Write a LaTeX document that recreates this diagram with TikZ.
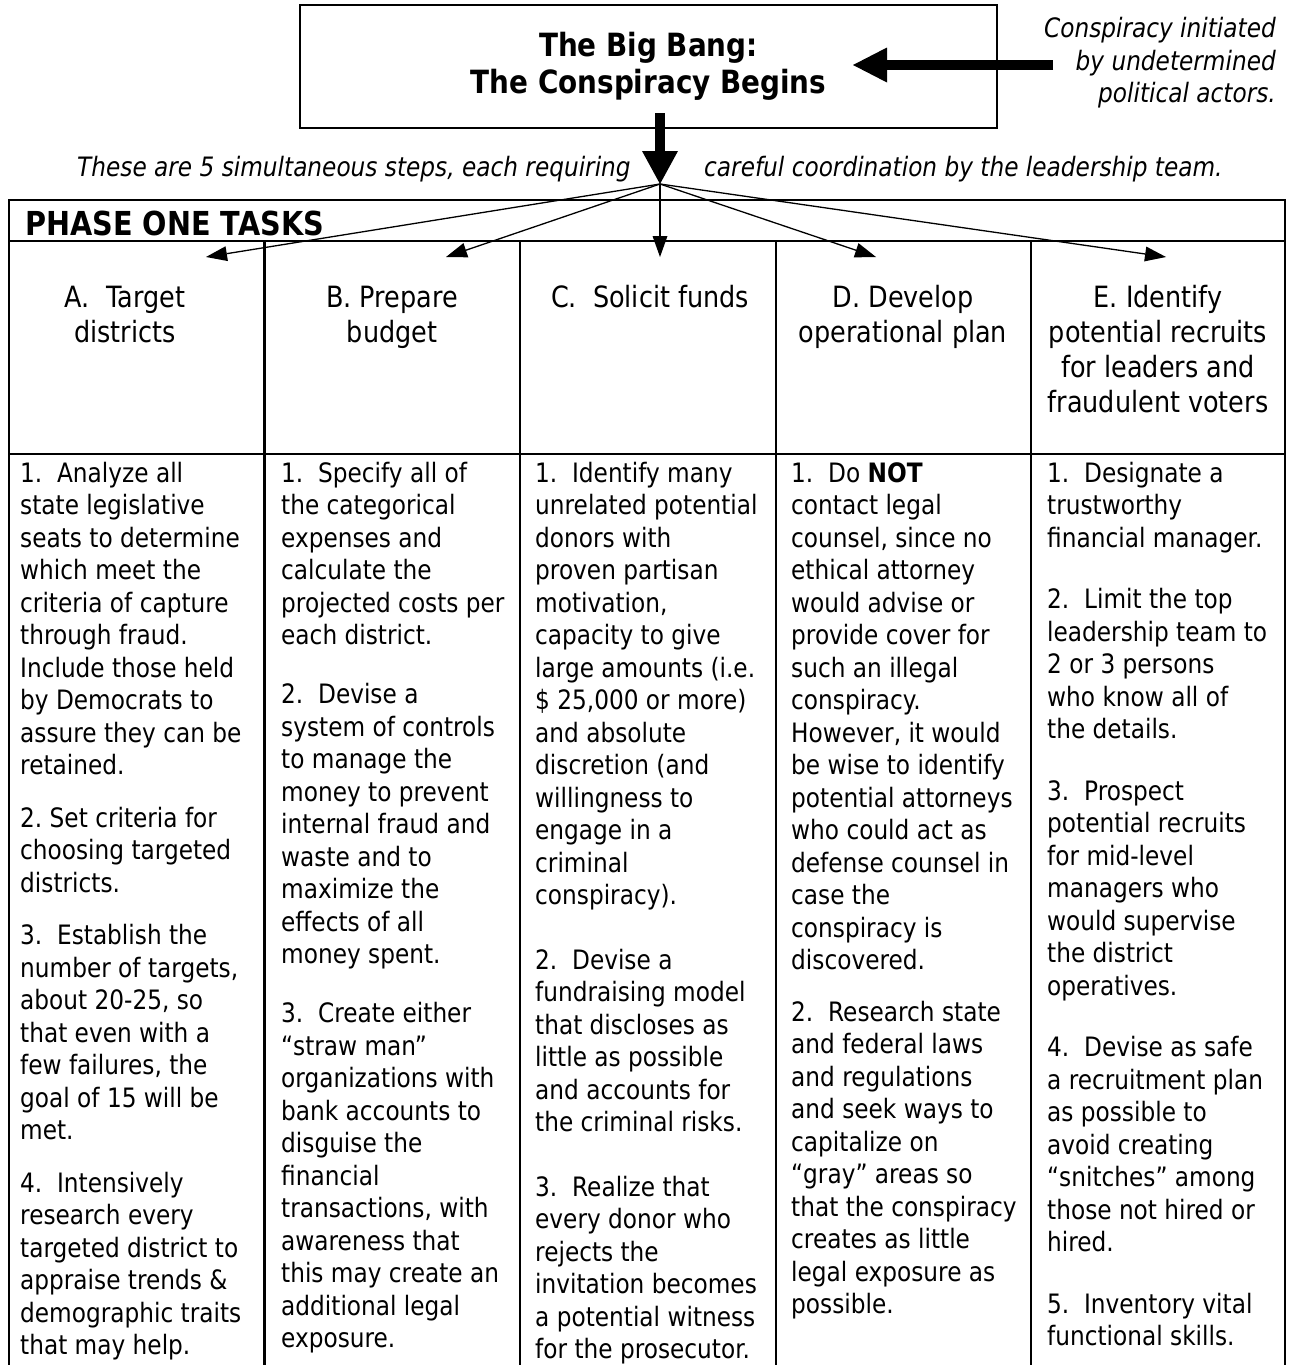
\documentclass[tikz,border=0pt]{standalone}
\usepackage{fontspec}
\setmainfont{DejaVu Sans}[FakeStretch=0.87]
\usetikzlibrary{arrows.meta}
\frenchspacing
\newcommand{\bodyfont}{\fontsize{26.7}{32.5}\selectfont}
\newcommand{\headfont}{\fontsize{29.3}{35.2}\selectfont}
\newcommand{\bigfont}{\fontsize{32}{37}\selectfont\bfseries}
\newcommand{\phasefont}{\fontsize{33}{38}\selectfont\bfseries}
\newcommand{\notefont}{\fontsize{26.7}{33}\selectfont\itshape}
\newcommand{\colbox}[1]{\parbox[t]{250pt}{\raggedright\bodyfont #1}}
\newcommand{\headbox}[1]{\parbox[t]{240pt}{\centering\headfont #1}}
\begin{document}
\begin{tikzpicture}[x=1pt,y=-1pt,
  tabline/.style={line width=2.4pt},
  fanarrow/.style={line width=1.3pt,-{Triangle[length=21pt,width=15pt,line width=0pt]}},
  bigarrow/.style={line width=10pt,-{Triangle[length=34pt,width=35pt,line width=0pt]}},
  titlebox/.style={draw,line width=2.4pt,minimum width=697pt,minimum height=123pt,inner sep=0pt,align=center,font=\bigfont},
  bodytext/.style={anchor=base west,inner sep=0pt},
  headtext/.style={anchor=base,inner sep=0pt},
  notetext/.style={anchor=base west,inner sep=0pt,font=\notefont}]
\fill[white] (0,0) rectangle (1288,1365);
\useasboundingbox (0,0) rectangle (1288,1365);

% title box
\node[titlebox] (title) at (648.5,66.5) {The Big Bang:\\The Conspiracy Begins};

% side note and arrow into the box
\node[anchor=base east,inner sep=0pt] (actors) at (1276,37)
  {\parbox[t]{320pt}{\raggedleft\notefont Conspiracy initiated\\by undetermined\\political actors.}};
\coordinate (srcR) at (1053,65);
\coordinate (inTip) at (853,65);
\draw[bigarrow] (srcR) -- (inTip);

% vertical thick arrow
\coordinate (stemtop) at (660,113);
\coordinate (hub) at (660,184);
\draw[bigarrow,-{Triangle[length=33pt,width=36pt,line width=0pt]}] (stemtop) -- (hub);

% notes beside the arrow
\node[notetext] (noteL) at (77,176) {These are 5 simultaneous steps, each requiring};
\node[notetext] (noteR) at (704,176) {careful coordination by the leadership team.};

% table frame
\draw[tabline] (9,1366) -- (9,200) -- (1285,200) -- (1285,1366);
\draw[tabline] (9,241) -- (1285,241);
\draw[tabline] (9,454) -- (1285,454);
\foreach \x in {264.5,520,776,1031} \draw[tabline] (\x,241) -- (\x,1366);

\node[anchor=base west,inner sep=0pt,font=\phasefont] (phase) at (25,235) {PHASE ONE TASKS};

% header cells
\node[headtext] (hA) at (125,307) {\headbox{A.\ \ Target\\districts}};
\node[headtext] (hB) at (392,307) {\headbox{B. Prepare\\budget}};
\node[headtext] (hC) at (650,307) {\headbox{C.\ \ Solicit funds}};
\node[headtext] (hD) at (903,307) {\headbox{D. Develop\\operational plan}};
\node[headtext] (hE) at (1158,307) {\headbox{E. Identify\\potential recruits\\for leaders and\\fraudulent voters}};

% fan arrows
\coordinate (tipA) at (206,257);
\coordinate (tipB) at (446,257);
\coordinate (tipC) at (660,257);
\coordinate (tipD) at (876,257);
\coordinate (tipE) at (1166,257);
\foreach \t in {tipA,tipB,tipC,tipD,tipE} \draw[fanarrow] (hub) -- (\t);

% body cells
\node[bodytext] (bA) at (20,482) {\colbox{%
1.\ \ Analyze all\\state legislative\\seats to determine\\which meet the\\criteria of capture\\through fraud.\\Include those held\\by Democrats to\\assure they can be\\retained.\\[20pt]
2. Set criteria for\\choosing targeted\\districts.\\[20pt]
3.\ \ Establish the\\number of targets,\\about 20-25, so\\that even with a\\few failures, the\\goal of 15 will be\\met.\\[20pt]
4.\ \ Intensively\\research every\\targeted district to\\appraise trends \&\\demographic traits\\that may help.}};

\node[bodytext] (bB) at (281,482) {\colbox{%
1.\ \ Specify all of\\the categorical\\expenses and\\calculate the\\projected costs per\\each district.\\[26.5pt]
2.\ \ Devise a\\system of controls\\to manage the\\money to prevent\\internal fraud and\\waste and to\\maximize the\\effects of all\\money spent.\\[26.5pt]
3.\ \ Create either\\“straw man”\\organizations with\\bank accounts to\\disguise the\\financial\\transactions, with\\awareness that\\this may create an\\additional legal\\exposure.}};

\node[bodytext] (bC) at (535,482) {\colbox{%
1.\ \ Identify many\\unrelated potential\\donors with\\proven partisan\\motivation,\\capacity to give\\large amounts (i.e.\\\$ 25,000 or more)\\and absolute\\discretion (and\\willingness to\\engage in a\\criminal\\conspiracy).\\[32.2pt]
2.\ \ Devise a\\fundraising model\\that discloses as\\little as possible\\and accounts for\\the criminal risks.\\[32.2pt]
3.\ \ Realize that\\every donor who\\rejects the\\invitation becomes\\a potential witness\\for the prosecutor.}};

\node[bodytext] (bD) at (791,482) {\colbox{%
1.\ \ Do \textbf{NOT}\\contact legal\\counsel, since no\\ethical attorney\\would advise or\\provide cover for\\such an illegal\\conspiracy.\\However, it would\\be wise to identify\\potential attorneys\\who could act as\\defense counsel in\\case the\\conspiracy is\\discovered.\\[19pt]
2.\ \ Research state\\and federal laws\\and regulations\\and seek ways to\\capitalize on\\“gray” areas so\\that the conspiracy\\creates as little\\legal exposure as\\possible.}};

\node[bodytext] (bE) at (1047,482) {\colbox{%
1.\ \ Designate a\\trustworthy\\financial manager.\\[29pt]
2.\ \ Limit the top\\leadership team to\\2 or 3 persons\\who know all of\\the details.\\[29pt]
3.\ \ Prospect\\potential recruits\\for mid-level\\managers who\\would supervise\\the district\\operatives.\\[29pt]
4.\ \ Devise as safe\\a recruitment plan\\as possible to\\avoid creating\\“snitches” among\\those not hired or\\hired.\\[29pt]
5.\ \ Inventory vital\\functional skills.}};
\end{tikzpicture}
\end{document}
